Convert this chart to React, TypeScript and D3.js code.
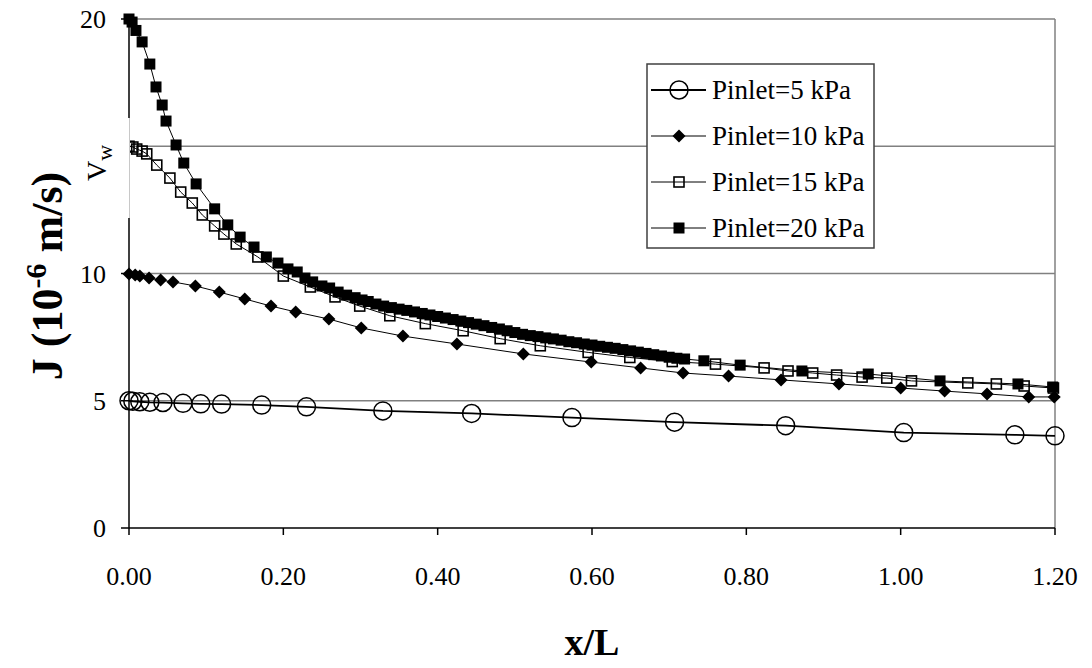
import * as d3 from "d3";

// x/L and J (10^-6 m/s)
const p5X = [0, 0.005, 0.014, 0.027, 0.044, 0.07, 0.093, 0.12, 0.172, 0.23, 0.329, 0.444, 0.574, 0.707, 0.851, 1.004, 1.148, 1.2];
const p5Y = [5.0, 4.98, 4.96, 4.94, 4.93, 4.9, 4.88, 4.87, 4.83, 4.76, 4.6, 4.5, 4.34, 4.16, 4.02, 3.75, 3.66, 3.62];

const p10X = [0, 0.008, 0.014, 0.026, 0.041, 0.057, 0.086, 0.117, 0.15, 0.184, 0.216, 0.259, 0.301, 0.355, 0.425, 0.511, 0.599, 0.663, 0.718, 0.777, 0.845, 0.92, 1.0, 1.057, 1.112, 1.166, 1.199];
const p10Y = [9.98, 9.94, 9.9, 9.82, 9.74, 9.67, 9.51, 9.27, 9.0, 8.72, 8.49, 8.21, 7.86, 7.54, 7.23, 6.84, 6.52, 6.29, 6.09, 5.97, 5.82, 5.66, 5.5, 5.38, 5.27, 5.15, 5.15];

const p15X = [0, 0.005, 0.01, 0.017, 0.023, 0.036, 0.053, 0.067, 0.082, 0.095, 0.111, 0.123, 0.139, 0.167, 0.2, 0.235, 0.267, 0.299, 0.338, 0.384, 0.433, 0.481, 0.533, 0.595, 0.649, 0.704, 0.76, 0.823, 0.854, 0.886, 0.917, 0.95, 0.982, 1.014, 1.087, 1.124, 1.16, 1.198];
const p15Y = [15.0, 14.97, 14.89, 14.81, 14.7, 14.26, 13.75, 13.2, 12.77, 12.3, 11.87, 11.55, 11.16, 10.65, 9.9, 9.47, 9.08, 8.72, 8.34, 8.03, 7.75, 7.44, 7.16, 6.9, 6.7, 6.54, 6.44, 6.29, 6.17, 6.09, 6.01, 5.93, 5.89, 5.78, 5.7, 5.66, 5.58, 5.5];

const p20X = [0, 0.004, 0.009, 0.017, 0.027, 0.035, 0.043, 0.048, 0.061, 0.071, 0.087, 0.111, 0.128, 0.144, 0.162, 0.178, 0.193, 0.206, 0.218, 0.228, 0.238, 0.25, 0.26, 0.271, 0.282, 0.293, 0.302,
  0.31, 0.32, 0.33, 0.34, 0.35, 0.36, 0.37, 0.38, 0.39, 0.4, 0.41, 0.42, 0.43, 0.44, 0.45, 0.46, 0.47, 0.48, 0.49, 0.5, 0.51, 0.52, 0.53, 0.54, 0.55, 0.56, 0.57, 0.58, 0.59, 0.6, 0.61, 0.62, 0.63, 0.64, 0.65, 0.66, 0.67, 0.68, 0.69, 0.7, 0.71, 0.72,
  0.745, 0.792, 0.872, 0.958, 1.051, 1.152, 1.197];
const p20Y = [20.0, 19.88, 19.55, 19.1, 18.23, 17.33, 16.62, 15.99, 15.05, 14.34, 13.52, 12.54, 11.91, 11.43, 11.04, 10.65, 10.41, 10.18, 10.06, 9.82, 9.67, 9.51, 9.43, 9.27, 9.15, 9.05, 8.96,
  8.9, 8.8, 8.72, 8.66, 8.6, 8.55, 8.49, 8.43, 8.37, 8.31, 8.25, 8.19, 8.13, 8.07, 8.01, 7.95, 7.88, 7.82, 7.75, 7.68, 7.61, 7.56, 7.52, 7.47, 7.43, 7.38, 7.32, 7.28, 7.23, 7.19, 7.14, 7.1, 7.06, 7.01, 6.96, 6.91, 6.86, 6.81, 6.76, 6.71, 6.67, 6.64,
  6.57, 6.4, 6.17, 6.05, 5.78, 5.66, 5.54];

const seriesNames = ["Pinlet=5 kPa", "Pinlet=10 kPa", "Pinlet=15 kPa", "Pinlet=20 kPa"];
const xTicks = [0, 0.2, 0.4, 0.6, 0.8, 1.0, 1.2];
const yTicks = [0, 5, 10, 15, 20];

const W = 1092;
const H = 668;
const font = "'Liberation Serif', 'Times New Roman', serif";

function Marker({ kind, cx, cy }: { kind: number; cx: number; cy: number }) {
  if (kind === 0) return <circle cx={cx} cy={cy} r={9} fill="none" stroke="#000" strokeWidth={1.5} />;
  if (kind === 1)
    return <path d={`M${cx},${cy - 6.5}L${cx + 6.5},${cy}L${cx},${cy + 6.5}L${cx - 6.5},${cy}Z`} fill="#000" />;
  if (kind === 2)
    return <rect x={cx - 5} y={cy - 5} width={10} height={10} fill="none" stroke="#000" strokeWidth={1.6} />;
  return <rect x={cx - 5.5} y={cy - 5.5} width={11} height={11} fill="#000" />;
}

export default function App() {
  const x = d3.scaleLinear().domain([0, 1.2]).range([129, 1055]);
  const y = d3.scaleLinear().domain([0, 20]).range([528, 19]);

  const series = [
    { xs: p5X, ys: p5Y, width: 1.8 },
    { xs: p10X, ys: p10Y, width: 1 },
    { xs: p15X, ys: p15Y, width: 1 },
    { xs: p20X, ys: p20Y, width: 1 },
  ];

  const line = d3
    .line<[number, number]>()
    .x((d) => x(d[0]))
    .y((d) => y(d[1]));

  const legendTop = 90;
  const legendStep = 46;

  return (
    <div style={{ position: "absolute", left: 0, top: 0 }}>
      <svg width={W} height={H} style={{ display: "block", background: "#fff" }} fontFamily={font}>
        {/* grid */}
        {yTicks.filter((t) => t > 0).map((t) => (
          <line key={t} x1={x(0)} x2={x(1.2)} y1={y(t)} y2={y(t)} stroke="#808080" strokeWidth={1.5} />
        ))}
        <line x1={x(1.2)} x2={x(1.2)} y1={y(20)} y2={y(0)} stroke="#808080" strokeWidth={1.5} />

        {/* axes */}
        <line x1={x(0)} x2={x(1.2)} y1={y(0)} y2={y(0)} stroke="#000" strokeWidth={1.5} />
        <line x1={x(0)} x2={x(0)} y1={y(20)} y2={y(0)} stroke="#000" strokeWidth={1.5} />
        {yTicks.map((t) => (
          <g key={t}>
            <line x1={x(0) - 8} x2={x(0)} y1={y(t)} y2={y(t)} stroke="#000" strokeWidth={1.5} />
            <text x={106} y={y(t)} dy="0.35em" textAnchor="end" fontSize={26}>
              {t}
            </text>
          </g>
        ))}
        {xTicks.map((t) => (
          <g key={t}>
            <line x1={x(t)} x2={x(t)} y1={y(0)} y2={y(0) + 7} stroke="#000" strokeWidth={1.5} />
            <text x={x(t)} y={585} textAnchor="middle" fontSize={26}>
              {d3.format(".2f")(t)}
            </text>
          </g>
        ))}

        {/* series */}
        {series.map((s, i) => (
          <path
            key={i}
            d={line(s.xs.map((v, k) => [v, s.ys[k]] as [number, number])) || ""}
            fill="none"
            stroke="#000"
            strokeWidth={s.width}
          />
        ))}
        {series.map((s, i) => (
          <g key={i}>
            {s.xs.map((v, k) => (
              <Marker key={k} kind={i} cx={x(v)} cy={y(s.ys[k])} />
            ))}
          </g>
        ))}

        {/* V_w label box over the axis */}
        <rect x={70} y={118} width={59.5} height={100} fill="#fff" />
        <line x1={129.5} x2={129.5} y1={118} y2={218} stroke="#c8c8c8" strokeWidth={1} />
        <text transform="translate(106,181) rotate(-90)" fontSize={28}>
          V<tspan fontSize={22} dy={6}>w</tspan>
        </text>

        {/* legend */}
        <rect x={647} y={64} width={227} height={184} fill="#fff" stroke="#404040" strokeWidth={1.5} />
        {seriesNames.map((name, i) => {
          const ly = legendTop + i * legendStep;
          return (
            <g key={name}>
              <line x1={651} x2={706} y1={ly} y2={ly} stroke="#000" strokeWidth={i === 0 ? 1.8 : 1} />
              <Marker kind={i} cx={679} cy={ly} />
              <text x={712} y={ly} dy="0.35em" fontSize={27}>
                {name}
              </text>
            </g>
          );
        })}

        {/* titles */}
        <text x={592} y={655} textAnchor="middle" fontSize={38} fontWeight="bold">
          x/L
        </text>
        <text transform="translate(62,276) rotate(-90)" textAnchor="middle" fontSize={44} fontWeight="bold">
          J (10<tspan fontSize={30} dy={-16}>-6</tspan>
          <tspan dy={16}> m/s)</tspan>
        </text>
      </svg>
    </div>
  );
}
